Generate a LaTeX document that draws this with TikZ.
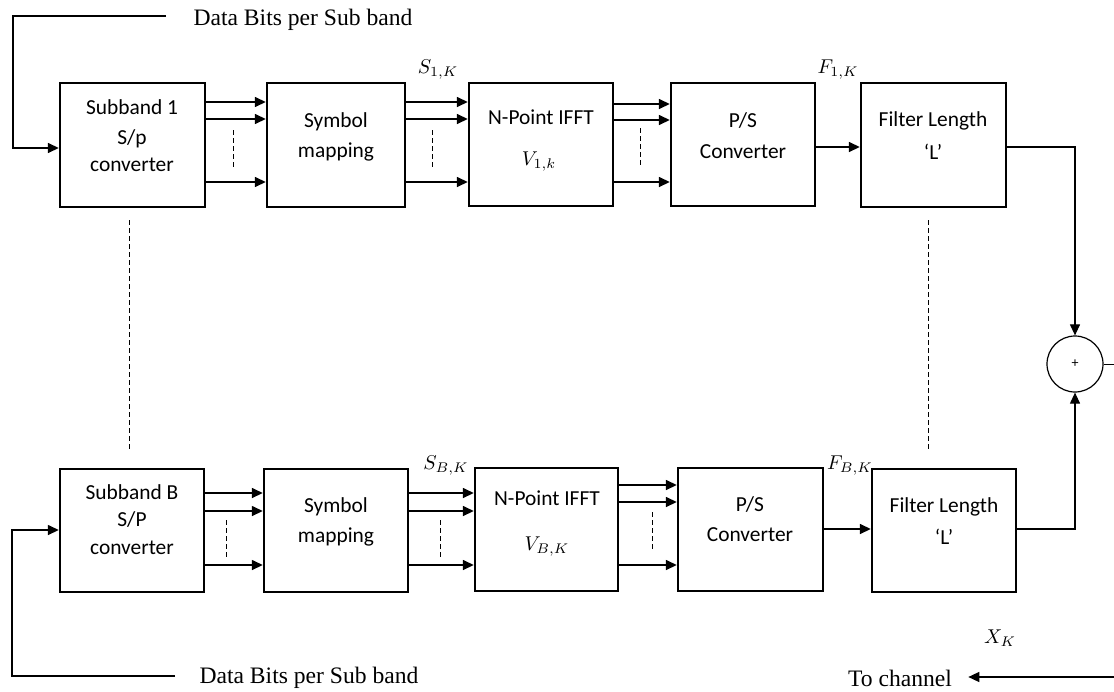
\documentclass[tikz,border=0pt]{standalone}
\usepackage{fontspec}
\setmainfont{Carlito}
\newfontfamily\serifdb{Liberation Serif}
\usetikzlibrary{arrows.meta,fit,calc}
\begin{document}
\begin{tikzpicture}[x=0.5pt,y=-0.5pt,
  box/.style={draw,line width=1.2pt,inner sep=0pt},
  txt/.style={inner sep=0pt,font=\fontsize{10.7}{12}\selectfont},
  stxt/.style={inner sep=0pt,font=\serifdb\fontsize{11.8}{13}\selectfont},
  mlab/.style={inner sep=0pt,font=\fontsize{10.3}{12}\selectfont},
  arr/.style={line width=0.75pt,-{Triangle[length=5.5pt,width=5pt]}},
  thin/.style={line width=0.5pt},
  thinarr/.style={line width=0.55pt,-{Triangle[length=5.5pt,width=5pt]}},
  dsh/.style={line width=0.45pt,dash pattern=on 2.5pt off 1.5pt}]
\useasboundingbox (0,0) rectangle (1114,691);
% ---------- top row boxes ----------
\node[box,fit={(60,83) (205,207)}] (b1) {};
\node[box,fit={(267,83) (405,207)}] (b2) {};
\node[box,fit={(469,83) (613,206)}] (b3) {};
\node[box,fit={(671,83) (815,206)}] (b4) {};
\node[box,fit={(861,83) (1006,207)}] (b5) {};
\node[txt] (b1a) at (132,107) {Subband 1};
\node[txt] (b1b) at (132,139) {S/p};
\node[txt] (b1c) at (132,165) {converter};
\node[txt] (b2a) at (336,122) {Symbol};
\node[txt] (b2b) at (336,152) {mapping};
\node[txt] (b3a) at (541,117) {N-Point IFFT};
\node[mlab] (b3b) at (539,162) {$V_{1,k}$};
\node[txt] (b4a) at (743,121) {P/S};
\node[txt] (b4b) at (743,152) {Converter};
\node[txt] (b5a) at (933,121) {Filter Length};
\node[txt] (b5b) at (933,152) {‘L’};
\node[mlab] (s1) at (438,70) {$S_{1,K}$};
\node[mlab] (f1) at (838,70) {$F_{1,K}$};
% top connectors
\foreach \yy in {102,119,182}{
  \draw[arr] (b1.east |- 0,\yy) -- (b2.west |- 0,\yy);
  \draw[arr] (b2.east |- 0,\yy) -- (b3.west |- 0,\yy);}
\foreach \yy in {104,120,182}{
  \draw[arr] (b3.east |- 0,\yy) -- (b4.west |- 0,\yy);}
\draw[arr] (b4.east |- 0,147) -- (b5.west |- 0,147);
\draw[dsh] (233,130) -- (233,168);
\draw[dsh] (432,130) -- (432,168);
\draw[dsh] (640,128) -- (640,167);
% top input
\node[stxt] (in1t) at (303,20) {Data Bits per Sub band};
\coordinate (in1) at (166,16);
\draw[arr] (in1) -- (13,16) -- (13,148) -- (b1.west |- 0,148);
% ---------- bottom row boxes ----------
\node[box,fit={(60,469) (204,592)}] (c1) {};
\node[box,fit={(264,469) (408,592)}] (c2) {};
\node[box,fit={(475,468) (618,591)}] (c3) {};
\node[box,fit={(678,468) (823,591)}] (c4) {};
\node[box,fit={(872,469) (1016,592)}] (c5) {};
\node[txt] (c1a) at (132,492) {Subband B};
\node[txt] (c1b) at (132,520) {S/P};
\node[txt] (c1c) at (132,548) {converter};
\node[txt] (c2a) at (336,507) {Symbol};
\node[txt] (c2b) at (336,537) {mapping};
\node[txt] (c3a) at (547,498) {N-Point IFFT};
\node[mlab] (c3b) at (547,547) {$V_{B,K}$};
\node[txt] (c4a) at (750,505) {P/S};
\node[txt] (c4b) at (750,535) {Converter};
\node[txt] (c5a) at (944,507) {Filter Length};
\node[txt] (c5b) at (944,537) {‘L’};
\node[mlab] (sb) at (446,466) {$S_{B,K}$};
\node[mlab] (fb) at (850,466) {$F_{B,K}$};
% bottom connectors
\foreach \yy in {493,511,565}{
  \draw[arr] (c1.east |- 0,\yy) -- (c2.west |- 0,\yy);
  \draw[arr] (c2.east |- 0,\yy) -- (c3.west |- 0,\yy);}
\foreach \yy in {485,502,565}{
  \draw[arr] (c3.east |- 0,\yy) -- (c4.west |- 0,\yy);}
\draw[arr] (c4.east |- 0,529) -- (c5.west |- 0,529);
\draw[dsh] (226,520) -- (226,558);
\draw[dsh] (440,520) -- (440,558);
\draw[dsh] (652,512) -- (652,552);
% bottom input
\node[stxt] (in2t) at (309,678) {Data Bits per Sub band};
\coordinate (in2) at (175,676);
\draw[arr] (in2) -- (12,676) -- (12,530) -- (c1.west |- 0,530);
% vertical dashed separators
\draw[dsh] (129,220) -- (129,452);
\draw[dsh] (928,220) -- (928,452);
% ---------- summation ----------
\node[draw,circle,line width=0.6pt,minimum size=28pt,inner sep=0pt,font=\fontsize{7}{8}\selectfont] (sum) at (1075,364) {+};
\draw[thinarr] (b5.east |- 0,147) -- (1075,147) -- (sum.north);
\draw[thinarr] (c5.east |- 0,529) -- (1075,529) -- (sum.south);
\coordinate (out1) at (1114,364);
\draw[thin] (sum.east) -- (out1);
% output
\node[mlab] (xk) at (1000,638) {$X_K$};
\node[stxt] (toch) at (900,678) {To channel};
\coordinate (out2) at (1114,677);
\draw[arr] (out2) -- ($(toch.east)+(16,-1)$);
\end{tikzpicture}
\end{document}
